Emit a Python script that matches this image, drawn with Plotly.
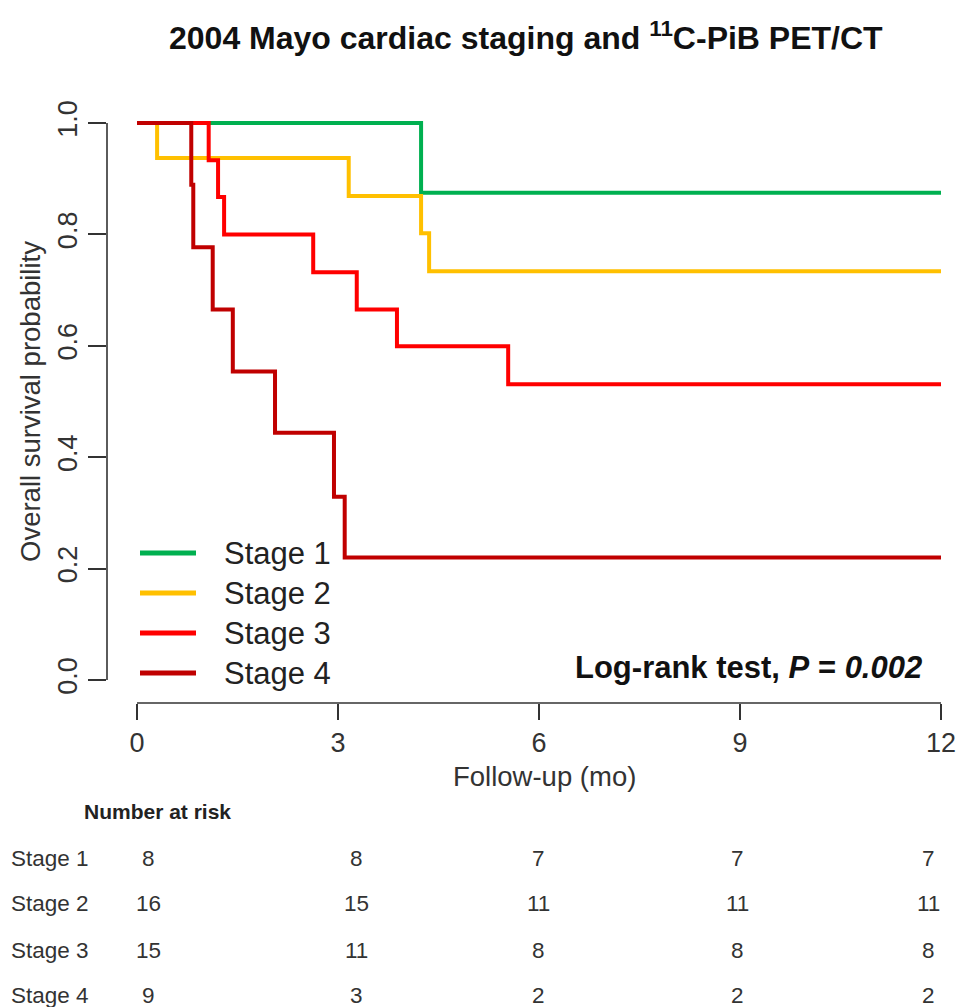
import plotly.graph_objects as go

# ---------------- data ----------------
stages = ["Stage 1", "Stage 2", "Stage 3", "Stage 4"]
colors = ["#00B050", "#FFC000", "#FF0000", "#C00000"]

times_s1 = [0, 4.24]
surv_s1 = [1.0, 0.875]
times_s2 = [0, 0.30, 3.16, 4.24, 4.36]
surv_s2 = [1.0, 0.937, 0.869, 0.802, 0.734]
times_s3 = [0, 1.07, 1.21, 1.30, 2.63, 3.28, 3.88, 5.54]
surv_s3 = [1.0, 0.933, 0.867, 0.800, 0.732, 0.665, 0.599, 0.531]
times_s4 = [0, 0.81, 0.84, 1.13, 1.43, 2.06, 2.94, 3.10]
surv_s4 = [1.0, 0.889, 0.777, 0.665, 0.554, 0.444, 0.329, 0.220]
follow_up_end = 12

x_ticks = [0, 3, 6, 9, 12]
y_ticks = [0.0, 0.2, 0.4, 0.6, 0.8, 1.0]
y_tick_labels = ["0.0", "0.2", "0.4", "0.6", "0.8", "1.0"]

risk_s1 = [8, 8, 7, 7, 7]
risk_s2 = [16, 15, 11, 11, 11]
risk_s3 = [15, 11, 8, 8, 8]
risk_s4 = [9, 3, 2, 2, 2]

title_text = "<b>2004 Mayo cardiac staging and <sup>11</sup>C-PiB PET/CT</b>"
pvalue_text = "<b>Log-rank test, <i>P</i> = <i>0.002</i></b>"

# ---------------- layout geometry ----------------
W, H = 960, 1007
PL, PR, PT, PB = 107, 950, 108, 703  # plot area in pixels
X0PX, X12PX = 137, 941
Y1PX, Y0PX = 123, 680
ppx = (X12PX - X0PX) / 12.0
ppy = (Y0PX - Y1PX) / 1.0
xr = [(PL - X0PX) / ppx, 12 + (PR - X12PX) / ppx]
yr = [-(PB - Y0PX) / ppy, 1 + (Y1PX - PT) / ppy]


def px(xp):
    return (xp - PL) / (PR - PL)


def py(yp):
    return (PB - yp) / (PB - PT)


FONT = "Liberation Sans, Arial, sans-serif"
AX = "#333333"

fig = go.Figure()
all_times = [times_s1, times_s2, times_s3, times_s4]
all_surv = [surv_s1, surv_s2, surv_s3, surv_s4]
for name, col, t, s in zip(stages, colors, all_times, all_surv):
    fig.add_trace(go.Scatter(
        x=t + [follow_up_end], y=s + [s[-1]], mode="lines", name=name,
        line=dict(color=col, width=4, shape="hv"), showlegend=False,
        hoverinfo="skip", cliponaxis=False))

# axis lines (R style, spanning only the data range)
fig.add_shape(type="line", xref="paper", yref="paper",
              x0=px(X0PX), x1=px(X12PX), y0=0, y1=0,
              line=dict(color=AX, width=1.6))
fig.add_shape(type="line", xref="paper", yref="paper",
              x0=0, x1=0, y0=py(Y0PX), y1=py(Y1PX),
              line=dict(color=AX, width=1.6))

# legend (manual)
leg_y = [553, 593, 633, 673]
for name, col, yy in zip(stages, colors, leg_y):
    fig.add_shape(type="line", xref="paper", yref="paper",
                  x0=px(140), x1=px(196), y0=py(yy), y1=py(yy),
                  line=dict(color=col, width=5))
    fig.add_annotation(xref="paper", yref="paper", x=px(222), y=py(yy),
                       text=name, showarrow=False, xanchor="left",
                       yanchor="middle",
                       font=dict(family=FONT, size=31, color="#222222"))

fig.add_annotation(xref="paper", yref="paper", x=px(924), y=py(667),
                   text=pvalue_text, showarrow=False, xanchor="right",
                   yanchor="middle", font=dict(family=FONT, size=31, color="#111111"))

# axis titles
fig.add_annotation(xref="paper", yref="paper", x=px(544), y=py(776),
                   text="Follow-up (mo)", showarrow=False, xanchor="center",
                   yanchor="middle", font=dict(family=FONT, size=27.5, color=AX))
fig.add_annotation(xref="paper", yref="paper", x=px(30), y=py(402),
                   text="Overall survival probability", showarrow=False,
                   textangle=-90, xanchor="center", yanchor="middle",
                   font=dict(family=FONT, size=27.5, color=AX))

# title
fig.add_annotation(xref="paper", yref="paper", x=px(526), y=py(36),
                   text=title_text, showarrow=False, xanchor="center",
                   yanchor="middle", font=dict(family=FONT, size=32, color="#111111"))

# number at risk table
fig.add_annotation(xref="paper", yref="paper", x=px(82), y=py(811),
                   text="<b>Number at risk</b>", showarrow=False, xanchor="left",
                   yanchor="middle", font=dict(family=FONT, size=21, color="#222222"))
row_y = [858, 903, 950, 995]
col_x = [148, 356, 538, 737, 928]
risks = [risk_s1, risk_s2, risk_s3, risk_s4]
for name, yy, vals in zip(stages, row_y, risks):
    fig.add_annotation(xref="paper", yref="paper", x=px(9), y=py(yy),
                       text=name, showarrow=False, xanchor="left",
                       yanchor="middle", font=dict(family=FONT, size=22.5, color="#333333"))
    for cx, v in zip(col_x, vals):
        fig.add_annotation(xref="paper", yref="paper", x=px(cx), y=py(yy),
                           text=str(v), showarrow=False, xanchor="center",
                           yanchor="middle", font=dict(family=FONT, size=22.5, color="#333333"))

fig.update_layout(
    width=W, height=H, autosize=False,
    margin=dict(l=PL, r=W - PR, t=PT, b=H - PB, pad=0, autoexpand=False),
    paper_bgcolor="white", plot_bgcolor="white",
    showlegend=False,
)
fig.update_xaxes(range=xr, tickvals=x_ticks, ticks="outside", ticklen=16,
                 tickwidth=1.6, tickcolor=AX, showline=False, showgrid=False,
                 zeroline=False, tickfont=dict(family=FONT, size=27, color=AX),
                 fixedrange=True, automargin=False)
fig.update_yaxes(range=yr, tickvals=y_ticks, ticktext=y_tick_labels,
                 ticks="outside", ticklen=18, tickwidth=1.6, tickcolor=AX,
                 tickangle=-90, showline=False, showgrid=False, zeroline=False,
                 tickfont=dict(family=FONT, size=27, color=AX), fixedrange=True,
                 automargin=False)

fig.write_html("out.html", config={"displayModeBar": False},
               post_script="document.body.style.margin='0';document.body.style.overflow='hidden';")
